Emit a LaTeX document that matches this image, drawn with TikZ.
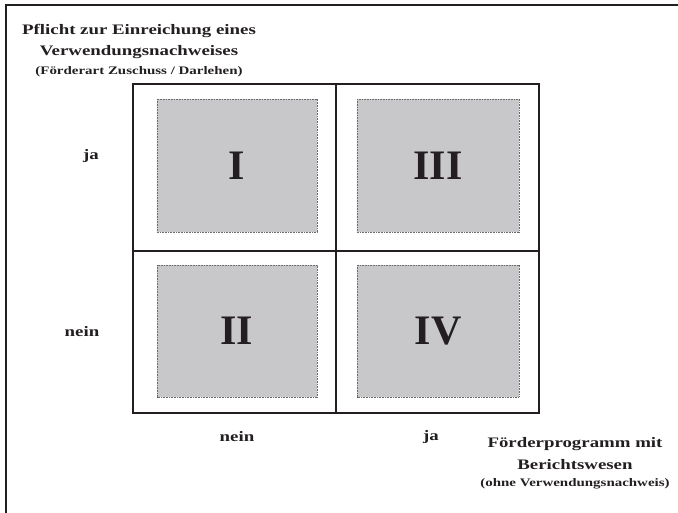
\documentclass[tikz,border=0pt]{standalone}
\usepackage{fontspec}
\setmainfont{Liberation Serif}
\newfontfamily\widefont[FakeStretch=1.3]{Liberation Serif}
\definecolor{txt}{HTML}{231F20}
\definecolor{cellfill}{HTML}{C8C8CA}
\definecolor{celledge}{HTML}{6A6A6A}
\begin{document}
\begin{tikzpicture}[x=1pt,y=-1pt,
  lbl/.style={text=txt,font=\widefont\bfseries\fontsize{14.5}{18}\selectfont,inner sep=0pt,anchor=center},
  small/.style={text=txt,font=\widefont\bfseries\fontsize{11.5}{14}\selectfont,inner sep=0pt,anchor=center},
  cell/.style={fill=cellfill,draw=celledge,dashed,dash pattern=on 1pt off 0.6pt,line width=0.6pt},
  roman/.style={text=txt,font=\bfseries\fontsize{42}{46}\selectfont,inner sep=0pt},
  frame/.style={draw=txt,line width=2pt}]
\useasboundingbox (0,0) rectangle (678,513);
% page border
\draw[txt,line width=1.6pt] (6,513) -- (6,5) -- (678,5);
% grid
\draw[frame] (133,84) rectangle (539,413);
\draw[frame] (336,84) -- (336,413);
\draw[frame] (133,251) -- (539,251);
% cells
\draw[cell] (157,99) rectangle (317,232) node[roman,midway] (c1) {I};
\draw[cell] (357,99) rectangle (519,232) node[roman,midway] (c3) {III};
\draw[cell] (157,265) rectangle (317,397) node[roman,midway] (c2) {II};
\draw[cell] (357,265) rectangle (519,397) node[roman,midway] (c4) {IV};
% axis labels
\node[lbl] (yja) at (91,156) {ja};
\node[lbl] (ynein) at (82,332) {nein};
\node[lbl] (xnein) at (237,437) {nein};
\node[lbl] (xja) at (431,437) {ja};
% title
\node[lbl] (t1) at (139,31) {Pflicht zur Einreichung eines};
\node[lbl] (t2) at (139,52) {Verwendungsnachweises};
\node[small] (t3) at (139,72) {(Förderart Zuschuss / Darlehen)};
% x axis title
\node[lbl] (b1) at (575,444) {Förderprogramm mit};
\node[lbl] (b2) at (575,465) {Berichtswesen};
\node[small] (b3) at (575,484) {(ohne Verwendungsnachweis)};
\end{tikzpicture}
\end{document}
